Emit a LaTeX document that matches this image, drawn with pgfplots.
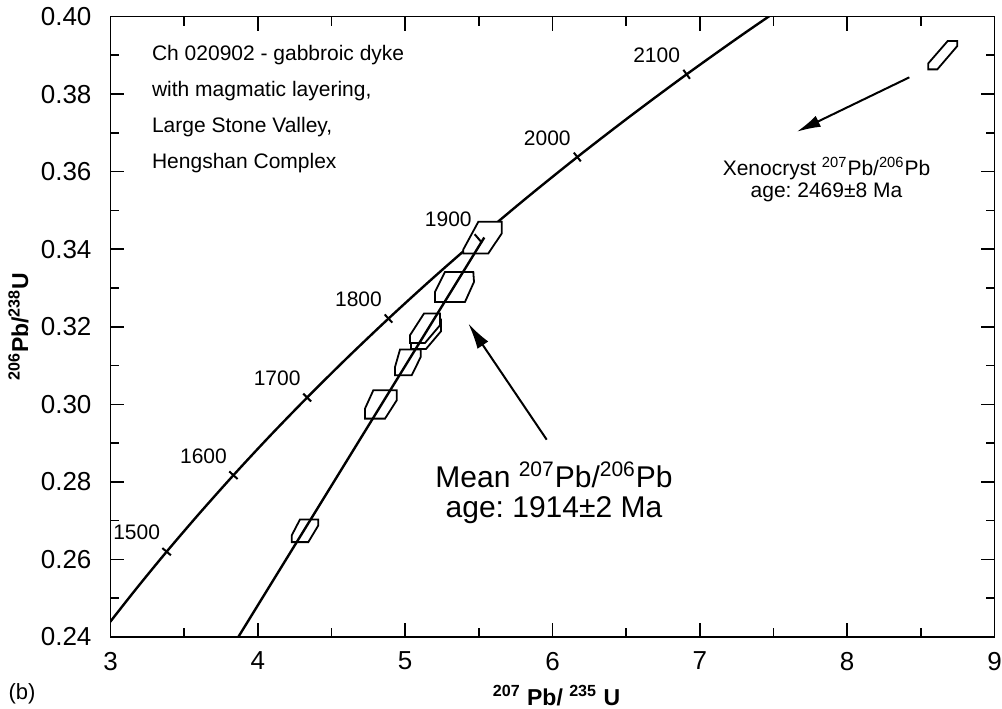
\documentclass[border=0pt]{standalone}
\usepackage{pgfplots}
\usepackage{pgfplotstable}
\pgfplotsset{compat=1.18}
\usepackage{fontspec}
\setmainfont{Liberation Sans}
\usetikzlibrary{arrows.meta,calc}
\frenchspacing

% concordia, 50 Ma steps (1400-2200 Ma)
\pgfplotstableread{
x y
2.97009 0.24256
3.17049 0.25224
3.38100 0.26200
3.60212 0.27181
3.83441 0.28172
4.07843 0.29170
4.33477 0.30175
4.60404 0.31189
4.88690 0.32211
5.18405 0.33240
5.49619 0.34277
5.82408 0.35323
6.16852 0.36377
6.53036 0.37438
6.91045 0.38509
7.30973 0.39587
7.72917 0.40674
}\concordia

% age marks on the concordia, rot = direction of the curve
\pgfplotstableread{
age x y rot
1500 3.38100 0.26200 50.0
1600 3.83441 0.28172 47.7
1700 4.33477 0.30175 45.3
1800 4.88690 0.32211 43.0
1900 5.49619 0.34277 40.6
2000 6.16852 0.36377 38.3
2100 6.91045 0.38509 36.0
}\agepts

\begin{document}
\begin{tikzpicture}
\begin{axis}[
  scale only axis, width=442pt, height=310.25pt,
  xmin=3, xmax=9, ymin=0.24, ymax=0.40,
  xtick={3,4,5,6,7,8,9},
  ytick={0.24,0.26,0.28,0.30,0.32,0.34,0.36,0.38,0.40},
  minor x tick num=1, minor y tick num=1,
  tick align=inside, major tick length=7pt, minor tick length=4.5pt,
  tick style={black, line width=0.8pt},
  axis line style={line width=0.9pt},
  yticklabel style={xshift=-6pt, /pgf/number format/.cd, fixed, fixed zerofill, precision=2},
  xticklabel style={yshift=-4pt},
  /pgf/number format/assume math mode=true,
  ticklabel style={font=\fontsize{13}{15}\selectfont},
  clip=true,
]
\coordinate (sw) at (rel axis cs:0,0);
\coordinate (ne) at (rel axis cs:1,1);
\coordinate (bm) at (rel axis cs:0.5,0);
\coordinate (lm) at (rel axis cs:0,0.5);

\addplot[black, line width=1.2pt, smooth] table[x=x, y=y] {\concordia};

\addplot[scatter, only marks, mark=|, mark size=2.8pt, line width=1pt,
  scatter/use mapped color={draw=black, fill=black},
  visualization depends on={\thisrow{rot} \as \rot},
  scatter/@pre marker code/.append style={/tikz/rotate=\rot}]
  table[x=x, y=y] {\agepts};

% analyses (error boxes)
\addplot[black, fill=white, line width=0.9pt] coordinates {
  (4.2862,0.27032) (4.4104,0.27032) (4.4104,0.26877) (4.3426,0.26447) (4.2299,0.26447) (4.2299,0.26619)} -- cycle;
\addplot[black, fill=white, line width=0.9pt] coordinates {
  (4.7837,0.30361) (4.9426,0.30361) (4.9426,0.30103) (4.8632,0.29631) (4.7274,0.29631) (4.7274,0.29889)} -- cycle;
\addplot[black, fill=white, line width=0.9pt] coordinates {
  (4.9650,0.31412) (5.1055,0.31412) (5.1055,0.31221) (5.0444,0.30748) (4.9311,0.30748) (4.9311,0.30963)} -- cycle;
\addplot[black, fill=white, line width=0.9pt] coordinates {
  (5.1346,0.32186) (5.2432,0.32186) (5.2432,0.31884) (5.1414,0.31427) (5.0396,0.31427) (5.0396,0.31626)} -- cycle;
\addplot[black, fill=white, line width=0.9pt] coordinates {
  (5.1278,0.32341) (5.2364,0.32341) (5.2364,0.32039) (5.1346,0.31582) (5.0328,0.31582) (5.0328,0.31781)} -- cycle;
\addplot[black, fill=white, line width=0.9pt] coordinates {
  (5.2704,0.33414) (5.4625,0.33414) (5.4672,0.33156) (5.4061,0.32640) (5.2025,0.32640) (5.2025,0.32898)} -- cycle;
\addplot[black, fill=white, line width=0.9pt] coordinates {
  (5.4964,0.34705) (5.6552,0.34705) (5.6552,0.34405) (5.5643,0.33889) (5.3946,0.33889) (5.3946,0.33992)} -- cycle;
\addplot[black, fill=white, line width=0.9pt] coordinates {
  (8.6824,0.39368) (8.7476,0.39368) (8.7476,0.39239) (8.6118,0.38637) (8.5507,0.38637) (8.5507,0.38792)} -- cycle;

% discordia
\addplot[black, line width=1.2pt] coordinates {(3.8674,0.24) (5.5371,0.34302)};

% age labels
\addplot[draw=none, nodes near coords, point meta=explicit symbolic,
  every node near coord/.style={anchor=center, xshift=-15pt, yshift=9.5pt,
    font=\fontsize{10.5}{12}\selectfont}]
  table[x=x, y=y, meta=age] {\agepts};

% arrows
\addplot[black, line width=1pt, -{Latex[length=12pt, width=6pt]}]
  coordinates {(8.4218,0.38431) (7.6575,0.37027)};
\addplot[black, line width=1pt, -{Latex[length=13pt, width=6.5pt]}]
  coordinates {(5.9607,0.29089) (5.4286,0.32083)};

\node[anchor=base west, font=\fontsize{10.5}{12}\selectfont] at (axis cs:3.2342,0.38877) {Ch 020902 - gabbroic dyke};
\node[anchor=base west, font=\fontsize{10.5}{12}\selectfont] at (axis cs:3.2342,0.37948) {with magmatic layering,};
\node[anchor=base west, font=\fontsize{10.5}{12}\selectfont] at (axis cs:3.2342,0.37019) {Large Stone Valley,};
\node[anchor=base west, font=\fontsize{10.5}{12}\selectfont] at (axis cs:3.2342,0.36090) {Hengshan Complex};

\node[anchor=base, font=\fontsize{10.5}{12}\selectfont] at (axis cs:7.8598,0.35910) {Xenocryst \textsuperscript{207}Pb/\textsuperscript{206}Pb};
\node[anchor=base, font=\fontsize{10.5}{12}\selectfont] at (axis cs:7.8598,0.35334) {age: 2469±8 Ma};

\node[anchor=base, font=\fontsize{15}{17}\selectfont] at (axis cs:6.0102,0.27866) {Mean \textsuperscript{207}Pb/\textsuperscript{206}Pb};
\node[anchor=base, font=\fontsize{15}{17}\selectfont] at (axis cs:6.0102,0.27092) {age: 1914±2 Ma};
\end{axis}

\node[anchor=base, font=\fontsize{11.5}{13}\selectfont\bfseries] at ([yshift=-34pt, xshift=2pt]bm) {\textsuperscript{207} Pb/ \textsuperscript{235} U};
\node[rotate=90, font=\fontsize{11.5}{13}\selectfont\bfseries] at ([xshift=-46pt]lm) {\textsuperscript{206}Pb/\textsuperscript{238}U};
\node[font=\fontsize{11}{13}\selectfont] at ([shift={(-44.25pt,-28.5pt)}]sw) {(b)};

\pgfresetboundingbox
\path ([shift={(-55.25pt,-35.5pt)}]sw) rectangle ([shift={(3.75pt,8.25pt)}]ne);
\end{tikzpicture}
\end{document}
